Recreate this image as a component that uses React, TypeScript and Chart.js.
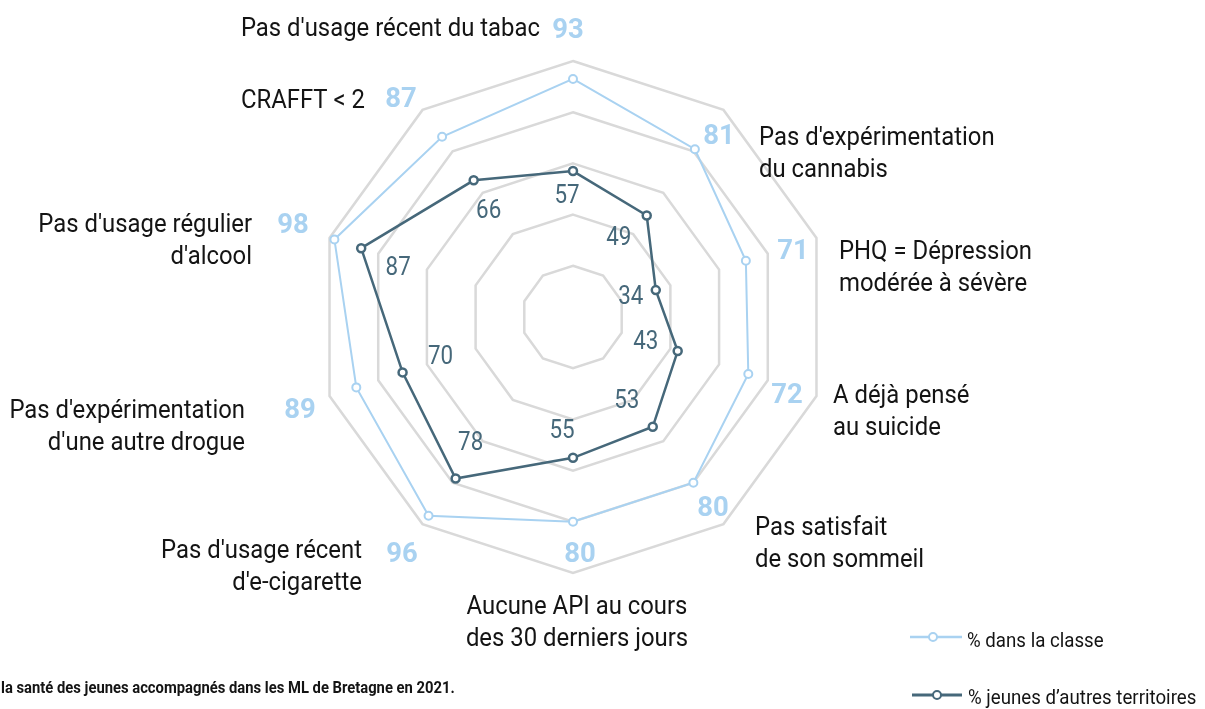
import React, { useEffect, useRef } from 'react';
import { Chart, registerables } from 'chart.js';

Chart.register(...registerables);

// ---------- data ----------
const categories: string[][] = [
  ["Pas d'usage récent du tabac"],
  ["Pas d'expérimentation", "du cannabis"],
  ["PHQ = Dépression", "modérée à sévère"],
  ["A déjà pensé", "au suicide"],
  ["Pas satisfait", "de son sommeil"],
  ["Aucune API au cours", "des 30 derniers jours"],
  ["Pas d'usage récent", "d'e-cigarette"],
  ["Pas d'expérimentation", "d'une autre drogue"],
  ["Pas d'usage régulier", "d'alcool"],
  ["CRAFFT < 2"],
];
const classValues = [93, 81, 71, 72, 80, 80, 96, 89, 98, 87];
const otherValues = [57, 49, 34, 43, 53, 55, 78, 70, 87, 66];
const seriesNames = ["% dans la classe", "% jeunes d’autres territoires"];
const footnote = "la santé des jeunes accompagnés dans les ML de Bretagne en 2021.";
const scaleMin = 0;
const scaleMax = 100;
const scaleStep = 20;

// ---------- styles ----------
const LIGHT = '#a9d2f1';
const DARK = '#46687a';
const GRID = '#d9d9d9';
const TEXT = '#141414';
const FONT = 'Roboto';

// layout of outer labels, in px relative to the chart centre (for a 256px radius)
// num: [x centre, baseline] of the blue value; txt: [x anchor, first baseline], align of text
type Lay = { num: [number, number]; txt: [number, number]; align: 'left' | 'right' | 'center' };
const labelLayout: Lay[] = [
  { num: [-5, -279], txt: [-33, -281], align: 'right' },
  { num: [146, -173], txt: [186, -172], align: 'left' },
  { num: [220, -58], txt: [266, -58], align: 'left' },
  { num: [214, 86], txt: [260, 86], align: 'left' },
  { num: [140, 199], txt: [182, 218], align: 'left' },
  { num: [7, 245], txt: [4, 297], align: 'center' },
  { num: [-171, 245], txt: [-211, 241], align: 'right' },
  { num: [-273, 101], txt: [-328, 101], align: 'right' },
  { num: [-280, -84], txt: [-321, -85], align: 'right' },
  { num: [-172, -210], txt: [-208, -209], align: 'right' },
];
// offsets of the inner value labels from their point
const innerOffsets: [number, number][] = [
  [-6, 25], [-28, 23], [-25, 7], [-32, -9], [-26, -25],
  [-11, -26], [15, -35], [38, -15], [37, 20], [15, 31],
];
const LINE_H = 32;

function drawText(
  ctx: CanvasRenderingContext2D,
  text: string,
  x: number,
  y: number,
  align: 'left' | 'right' | 'center',
  font: string,
  color: string,
  sx: number,
  baseline: CanvasTextBaseline = 'alphabetic'
) {
  ctx.save();
  ctx.font = font;
  ctx.fillStyle = color;
  ctx.textBaseline = baseline;
  ctx.textAlign = 'left';
  const w = ctx.measureText(text).width * sx;
  const left = align === 'left' ? x : align === 'right' ? x - w : x - w / 2;
  ctx.translate(left, y);
  ctx.scale(sx, 1);
  ctx.fillText(text, 0, 0);
  ctx.restore();
  return w;
}

const decorPlugin = {
  id: 'decor',
  afterDatasetsDraw(chart: any) {
    const ctx: CanvasRenderingContext2D = chart.ctx;
    const scale = chart.scales.r;
    const R = scale.drawingArea;
    const cx = scale.xCenter;
    const cy = scale.yCenter;
    const k = R / 256;

    // inner value labels (other territories)
    otherValues.forEach((v, i) => {
      const p = scale.getPointPosition(i, scale.getDistanceFromCenterForValue(v));
      const [ox, oy] = innerOffsets[i];
      drawText(ctx, String(v), p.x + ox, p.y + oy, 'center', `400 26px ${FONT}`, DARK, 0.86, 'middle');
    });

    // outer labels: blue value + category text
    categories.forEach((lines, i) => {
      const lay = labelLayout[i];
      drawText(ctx, String(classValues[i]), cx + lay.num[0] * k, cy + lay.num[1] * k, 'center', `700 28px ${FONT}`, LIGHT, 0.98);
      lines.forEach((ln, j) => {
        drawText(ctx, ln, cx + lay.txt[0] * k, cy + lay.txt[1] * k + j * LINE_H, lay.align, `400 25px ${FONT}`, TEXT, 0.955);
      });
    });

    // legend
    const legendItems = [
      { color: LIGHT, width: 2.5, x0: 910, x1: 962, cx: 933, y: 637, tx: 967, ty: 642 },
      { color: DARK, width: 3, x0: 912, x1: 962, cx: 937, y: 695, tx: 968, ty: 699 },
    ];
    legendItems.forEach((it, j) => {
      ctx.save();
      ctx.strokeStyle = it.color;
      ctx.lineWidth = it.width;
      ctx.beginPath();
      ctx.moveTo(it.x0, it.y);
      ctx.lineTo(it.x1, it.y);
      ctx.stroke();
      ctx.beginPath();
      ctx.arc(it.cx, it.y, 4, 0, Math.PI * 2);
      ctx.fillStyle = '#ffffff';
      ctx.fill();
      ctx.lineWidth = 2;
      ctx.stroke();
      ctx.restore();
      drawText(ctx, seriesNames[j], it.tx, it.ty, 'left', `400 21px ${FONT}`, TEXT, 0.89, 'middle');
    });

    // footnote
    drawText(ctx, footnote, 1, 689, 'left', `700 17px ${FONT}`, TEXT, 0.87, 'middle');
  },
};

export default function App() {
  const ref = useRef<HTMLCanvasElement | null>(null);
  useEffect(() => {
    if (!ref.current) return;
    const chart = new Chart(ref.current, {
      type: 'radar',
      data: {
        labels: categories.map((c) => c.join(' ')),
        datasets: [
          {
            label: seriesNames[0],
            data: classValues,
            borderColor: LIGHT,
            borderWidth: 2,
            pointRadius: 4,
            pointBorderWidth: 2,
            pointBackgroundColor: '#ffffff',
            pointBorderColor: LIGHT,
            fill: false,
            order: 2,
          },
          {
            label: seriesNames[1],
            data: otherValues,
            borderColor: DARK,
            borderWidth: 2.5,
            pointRadius: 4,
            pointBorderWidth: 2.5,
            pointBackgroundColor: '#ffffff',
            pointBorderColor: DARK,
            fill: false,
            order: 1,
          },
        ],
      },
      options: {
        responsive: true,
        maintainAspectRatio: false,
        animation: false,
        layout: { padding: { left: 317, right: 376, top: 61, bottom: 136 } },
        plugins: { legend: { display: false }, tooltip: { enabled: false } },
        elements: { line: { tension: 0 } },
        scales: {
          r: {
            min: scaleMin,
            max: scaleMax,
            ticks: { display: false, stepSize: scaleStep },
            grid: { color: GRID, lineWidth: 2.5 },
            angleLines: { display: false },
            pointLabels: { display: false },
          },
        },
      },
      plugins: [decorPlugin],
    });
    return () => chart.destroy();
  }, []);
  return (
    <div style={{ position: 'absolute', left: 0, top: 0, width: 1205, height: 709, background: '#ffffff' }}>
      <canvas ref={ref} />
    </div>
  );
}
